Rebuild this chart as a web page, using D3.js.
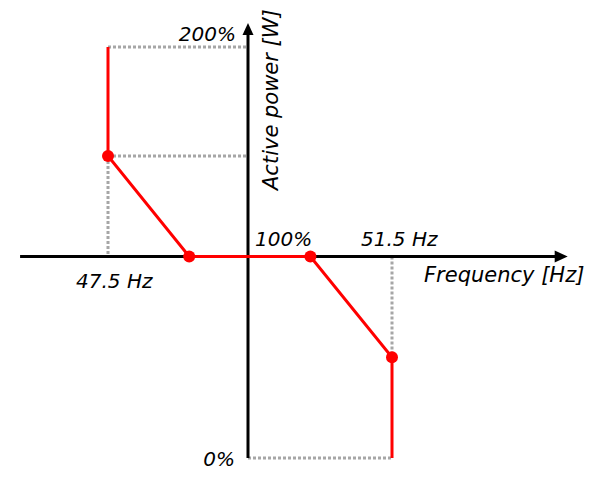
<!DOCTYPE html>
<html>
<head>
<meta charset="utf-8">
<script src="https://cdn.jsdelivr.net/npm/d3@7"></script>
<style>
  html, body { margin: 0; padding: 0; background: #fff; }
  text { font-family: "DejaVu Sans", sans-serif; font-style: italic; font-size: 20px; fill: #000; }
  text.title { font-size: 21px; }
</style>
</head>
<body>
<svg id="chart" width="602" height="498"></svg>
<script>
// ---- data (schematic frequency / active power characteristic) ----
const freq  = [47.5, 47.5, 48.95, 50.65, 51.5, 51.5];   // Hz
const power = [200, 148, 100, 100, 50, 0];              // % of nominal
const markerIdx = [1, 2, 3, 4];                         // points drawn with dots
const axisFreq = 50;                                    // where the power axis crosses
const axisPower = 100;                                  // where the frequency axis crosses
const freqExtent = [45.93, 53.33];
const powerExtent = [0, 211.5];
const powerTicks = [200, 100, 0];
const powerTickLabels = ["200%", "100%", "0%"];
const freqTicks = [47.5, 51.5];
const freqTickLabels = ["47.5 Hz", "51.5 Hz"];
const xTitle = "Frequency [Hz]";
const yTitle = "Active power [W]";

// ---- scales ----
const x = d3.scaleLinear().domain([47.5, 50, 51.5]).range([108, 248, 392]);
const y = d3.scaleLinear().domain([0, 100, 200]).range([458, 256.5, 47]);

const svg = d3.select("#chart");
const grey = "#a6a6a6", red = "#ff0000";

// ---- dotted guide lines ----
const guides = [
  [[freq[0], power[0]], [axisFreq, power[0]]],
  [[freq[1], power[1]], [axisFreq, power[1]]],
  [[freq[1], power[1]], [freq[1], axisPower]],
  [[freq[4], axisPower], [freq[4], power[4]]],
  [[axisFreq, power[5]], [freq[5], power[5]]]
];
svg.append("g").selectAll("line").data(guides).join("line")
  .attr("x1", d => x(d[0][0])).attr("y1", d => y(d[0][1]))
  .attr("x2", d => x(d[1][0])).attr("y2", d => y(d[1][1]))
  .attr("stroke", grey).attr("stroke-width", 3).attr("stroke-dasharray", "3,2");

// ---- axes with arrowheads ----
const ax = svg.append("g");
const xTip = x(freqExtent[1]), yTip = y(powerExtent[1]);
const x0 = x(axisFreq), y0 = y(axisPower);
ax.append("line").attr("x1", x(freqExtent[0])).attr("x2", xTip - 12)
  .attr("y1", y0).attr("y2", y0).attr("stroke", "#000").attr("stroke-width", 3);
ax.append("path").attr("d", `M${xTip},${y0} L${xTip - 13},${y0 - 6} L${xTip - 13},${y0 + 6} Z`).attr("fill", "#000");
ax.append("line").attr("x1", x0).attr("x2", x0)
  .attr("y1", y(powerExtent[0])).attr("y2", yTip + 11).attr("stroke", "#000").attr("stroke-width", 3);
ax.append("path").attr("d", `M${x0},${yTip} L${x0 - 5.5},${yTip + 12} L${x0 + 5.5},${yTip + 12} Z`).attr("fill", "#000");

// ---- red characteristic ----
const pts = freq.map((f, i) => [f, power[i]]);
svg.append("path").datum(pts)
  .attr("d", d3.line().x(d => x(d[0])).y(d => y(d[1])))
  .attr("fill", "none").attr("stroke", red).attr("stroke-width", 3).attr("stroke-linejoin", "miter");
svg.append("g").selectAll("circle").data(markerIdx.map(i => pts[i])).join("circle")
  .attr("cx", d => x(d[0])).attr("cy", d => y(d[1])).attr("r", 6).attr("fill", red);

// ---- labels ----
const lab = svg.append("g");
// power tick labels
lab.append("text").attr("x", x0 - 12).attr("y", y(powerTicks[0]) - 6).attr("text-anchor", "end").text(powerTickLabels[0]);
lab.append("text").attr("x", x0 + 7).attr("y", y(powerTicks[1]) - 11).attr("text-anchor", "start").text(powerTickLabels[1]);
lab.append("text").attr("x", x0 - 13).attr("y", y(powerTicks[2]) + 8).attr("text-anchor", "end").text(powerTickLabels[2]);
// frequency tick labels
lab.append("text").attr("x", x(freqTicks[0]) - 32).attr("y", y0 + 31).attr("text-anchor", "start").text(freqTickLabels[0]);
lab.append("text").attr("x", x(freqTicks[1]) - 31).attr("y", y0 - 11).attr("text-anchor", "start").text(freqTickLabels[1]);
// titles
lab.append("text").attr("class", "title").attr("x", 424).attr("y", y0 + 25.5).attr("text-anchor", "start").text(xTitle);
lab.append("text").attr("class", "title").attr("transform", `translate(${x0 + 30},190) rotate(-90)`).attr("text-anchor", "start").text(yTitle);
</script>
</body>
</html>
